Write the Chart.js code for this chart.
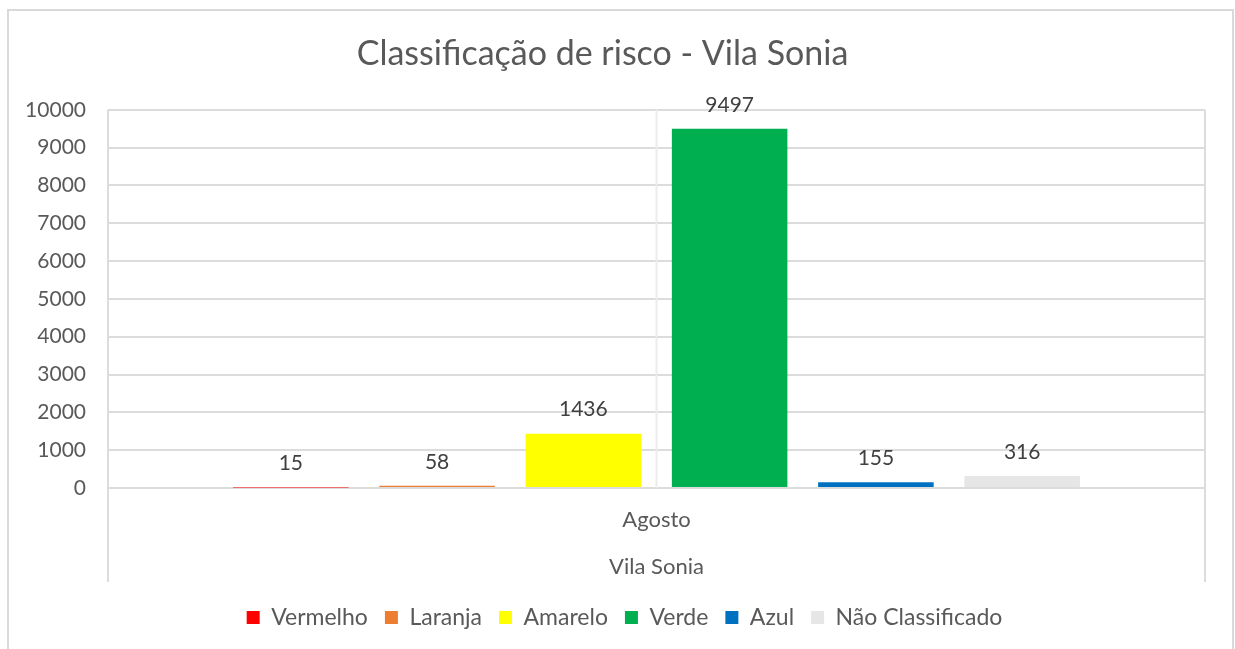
<!DOCTYPE html>
<html>
<head>
<meta charset="utf-8">
<script src="https://cdn.jsdelivr.net/npm/chart.js@4.4.1/dist/chart.umd.min.js"></script>
<style>
    html, body { margin: 0; padding: 0; background: #fff; overflow: hidden; }
    #wrap { position: relative; width: 1235px; height: 649px; }
    #chart { position: absolute; left: 0; top: 0; }
    #frame {
        position: absolute; left: 7px; top: 9px; width: 1227px; height: 680px;
        border: 2px solid #d9d9d9; box-sizing: border-box; pointer-events: none;
    }
</style>
</head>
<body>
<div id="wrap">
    <canvas id="chart" width="1235" height="649"></canvas>
    <div id="frame"></div>
</div>
<script>
// Data
const categories = [['Agosto', 'Vila Sonia']];
const seriesNames = ['Vermelho', 'Laranja', 'Amarelo', 'Verde', 'Azul', 'Não Classificado'];
const seriesValues = [[15], [58], [1436], [9497], [155], [316]];
const seriesColors = ['#ff0000', '#ed7d31', '#ffff00', '#00b050', '#0070c0', '#e7e6e6'];
const yMin = 0;
const yMax = 10000;
const yStep = 1000;

const FONT = 'Lato, "Open Sans", sans-serif';
const GRID = '#dcdcdc';

// value labels above each bar
const valueLabels = {
    id: 'valueLabels',
    afterDatasetsDraw(chart) {
        const ctx = chart.ctx;
        ctx.save();
        ctx.font = '21px ' + FONT;
        ctx.fillStyle = '#404040';
        ctx.textAlign = 'center';
        ctx.textBaseline = 'middle';
        chart.data.datasets.forEach((ds, i) => {
            chart.getDatasetMeta(i).data.forEach((bar, j) => {
                ctx.fillText(ds.data[j], bar.x, bar.y - 24);
            });
        });
        ctx.restore();
    }
};

// plot box edges, extended down around the category labels, plus the centre divider
const plotFrame = {
    id: 'plotFrame',
    afterLayout(chart) {
        // legend sits a little right of the canvas centre
        chart.legend.left += 22;
        chart.legend.right += 22;
    },
    beforeDatasetsDraw(chart) {
        const { ctx, chartArea, scales } = chart;
        const bottom = chartArea.bottom + 94;
        ctx.save();
        ctx.strokeStyle = GRID;
        ctx.lineWidth = 2;
        ctx.beginPath();
        ctx.moveTo(chartArea.left, chartArea.top);
        ctx.lineTo(chartArea.left, bottom);
        ctx.moveTo(chartArea.right, chartArea.top);
        ctx.lineTo(chartArea.right, bottom);
        ctx.stroke();
        const cx = scales.x.getPixelForValue(0);
        ctx.strokeStyle = '#ececec';
        ctx.beginPath();
        ctx.moveTo(cx, chartArea.top);
        ctx.lineTo(cx, chartArea.bottom);
        ctx.stroke();
        ctx.restore();
    }
};

new Chart(document.getElementById('chart'), {
    type: 'bar',
    data: {
        labels: categories,
        datasets: seriesNames.map((name, i) => ({
            label: name,
            data: seriesValues[i],
            backgroundColor: seriesColors[i],
            borderWidth: 0,
            categoryPercentage: 0.8,
            barPercentage: 0.79
        }))
    },
    options: {
        responsive: false,
        animation: false,
        layout: { padding: { left: 0, right: 30, top: 0, bottom: 10 } },
        plugins: {
            title: {
                display: true,
                text: 'Classificação de risco - Vila Sonia',
                color: '#595959',
                font: { family: FONT, size: 34, weight: 'normal', lineHeight: 1.2 },
                padding: { top: 34, bottom: 35 }
            },
            legend: {
                position: 'bottom',
                labels: {
                    color: '#595959',
                    font: { family: FONT, size: 23 },
                    boxWidth: 13,
                    boxHeight: 13,
                    padding: 17
                }
            },
            tooltip: { enabled: false }
        },
        scales: {
            x: {
                grid: { display: false, drawTicks: false },
                border: { display: true, color: GRID, width: 2 },
                ticks: {
                    color: '#595959',
                    font: { family: FONT, size: 22, lineHeight: 2.14 },
                    padding: 8,
                    maxRotation: 0
                },
                afterFit(scale) { scale.height = 101; }
            },
            y: {
                min: yMin,
                max: yMax,
                ticks: {
                    stepSize: yStep,
                    color: '#595959',
                    font: { family: FONT, size: 21 },
                    padding: 22,
                    callback: (v) => String(v)
                },
                grid: { color: GRID, lineWidth: 2, drawTicks: false },
                border: { display: false },
                afterFit(scale) { scale.width = 108; }
            }
        }
    },
    plugins: [plotFrame, valueLabels]
});
</script>
</body>
</html>
